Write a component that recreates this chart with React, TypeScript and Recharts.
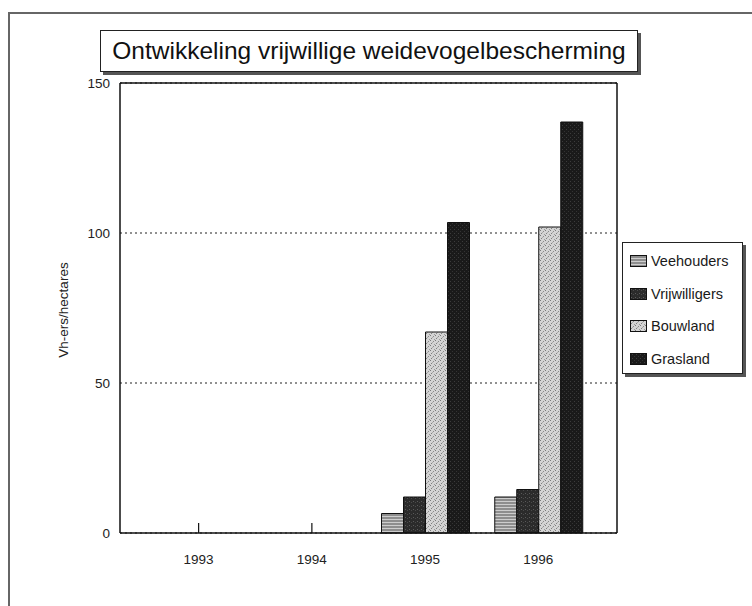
import React from 'react';
import { BarChart, Bar, XAxis, YAxis, CartesianGrid, Legend } from 'recharts';

const years = ['1993', '1994', '1995', '1996'];
const veehouders = [0, 0, 6.5, 12];
const vrijwilligers = [0, 0, 12, 14.5];
const bouwland = [0, 0, 67, 102];
const grasland = [0, 0, 103.5, 137];
const yTicks = [0, 50, 100, 150];

const SERIES = [
  { key: 'veehouders', name: 'Veehouders', fill: 'url(#pVee)' },
  { key: 'vrijwilligers', name: 'Vrijwilligers', fill: 'url(#pVrij)' },
  { key: 'bouwland', name: 'Bouwland', fill: 'url(#pBouw)' },
  { key: 'grasland', name: 'Grasland', fill: 'url(#pGras)' },
];

const data = years.map((year, i) => ({
  year,
  veehouders: veehouders[i],
  vrijwilligers: vrijwilligers[i],
  bouwland: bouwland[i],
  grasland: grasland[i],
}));

const FONT = '"Liberation Sans", Arial, sans-serif';

function YearTick({ x, y, payload }: any) {
  return (
    <g>
      <line x1={x} x2={x} y1={y} y2={y - 10} stroke="#111" strokeWidth={1.2} />
      <text x={x} y={y + 27} textAnchor="middle" dominantBaseline="middle" fontSize={13.5} fontFamily={FONT} fill="#222">
        {payload.value}
      </text>
    </g>
  );
}

function LegendBox({ payload }: any) {
  // keep the series order of the original chart
  const keys = (payload || []).map((p: any) => p.dataKey);
  const items = SERIES.filter((s) => keys.includes(s.key));
  return (
    <div
      style={{
        width: 121,
        height: 132,
        boxSizing: 'border-box',
        border: '1px solid #222',
        boxShadow: '3px 3px 0 #555',
        background: '#fff',
        padding: '2px 0 0 7px',
        fontFamily: FONT,
      }}
    >
      {items.map((s) => (
        <div key={s.key} style={{ display: 'flex', alignItems: 'center', height: 32.5 }}>
          <svg width={17} height={12} style={{ display: 'block' }}>
            <rect x={0.5} y={0.5} width={16} height={11} fill={s.fill} stroke="#111" />
          </svg>
          <span style={{ marginLeft: 4, fontSize: 14.5, color: '#1a1a1a' }}>{s.name}</span>
        </div>
      ))}
    </div>
  );
}

function AxisTitle() {
  return (
    <text x={64} y={310} transform="rotate(-90 64 310)" textAnchor="middle" dominantBaseline="middle" fontSize={13.5} fontFamily={FONT} fill="#222">
      Vh-ers/hectares
    </text>
  );
}

export default function App() {
  return (
    <div style={{ position: 'absolute', left: 0, top: 0, width: 752, height: 606, background: '#fff', overflow: 'hidden' }}>
      <div style={{ position: 'absolute', left: 8, top: 12, width: 800, height: 700, borderLeft: '2px solid #666', borderTop: '2px solid #666' }} />
      <div
        style={{
          position: 'absolute',
          left: 100,
          top: 30,
          width: 538,
          height: 42,
          boxSizing: 'border-box',
          border: '1px solid #222',
          boxShadow: '3px 3px 0 #555',
          background: '#fff',
          fontFamily: FONT,
          fontSize: 24.5,
          lineHeight: '40px',
          textAlign: 'center',
          color: '#111',
          zIndex: 2,
        }}
      >
        Ontwikkeling vrijwillige weidevogelbescherming
      </div>
      <BarChart
        width={752}
        height={606}
        data={data}
        margin={{ top: 82, right: 134, bottom: 33, left: 0 }}
        barCategoryGap={13}
        barGap={0}
      >
        <defs>
          <pattern id="pVee" width={4} height={3} patternUnits="userSpaceOnUse">
            <rect width={4} height={3} fill="#8e8e8e" />
            <rect width={4} height={1} fill="#cdcdcd" />
          </pattern>
          <pattern id="pVrij" width={4} height={4} patternUnits="userSpaceOnUse">
            <rect width={4} height={4} fill="#2b2b2b" />
            <rect x={1} y={1} width={1} height={1} fill="#5a5a5a" />
            <rect x={3} y={2} width={1} height={1} fill="#4a4a4a" />
          </pattern>
          <pattern id="pBouw" width={5} height={5} patternUnits="userSpaceOnUse">
            <rect width={5} height={5} fill="#d4d4d4" />
            <rect x={0} y={0} width={1} height={1} fill="#7a7a7a" />
            <rect x={3} y={1} width={1} height={1} fill="#8a8a8a" />
            <rect x={1} y={3} width={1} height={1} fill="#808080" />
            <rect x={4} y={4} width={1} height={1} fill="#999" />
            <rect x={2} y={2} width={1} height={1} fill="#aaa" />
          </pattern>
          <pattern id="pGras" width={4} height={4} patternUnits="userSpaceOnUse">
            <rect width={4} height={4} fill="#1a1a1a" />
            <rect x={2} y={1} width={1} height={1} fill="#3c3c3c" />
            <rect x={0} y={3} width={1} height={1} fill="#333" />
          </pattern>
        </defs>
        <CartesianGrid vertical={false} stroke="#222" strokeDasharray="2 3" />
        <XAxis
          dataKey="year"
          height={40}
          padding={{ left: 22, right: 22 }}
          tickLine={false}
          tickSize={0}
          tickMargin={0}
          axisLine={{ stroke: '#111', strokeWidth: 1.5 }}
          tick={<YearTick />}
        />
        <XAxis xAxisId="top" dataKey="year" orientation="top" height={1} tick={false} tickLine={false} axisLine={{ stroke: '#111', strokeWidth: 1.5 }} />
        <YAxis
          width={120}
          domain={[0, 150]}
          ticks={yTicks}
          tickLine={false}
          tickSize={0}
          tickMargin={10}
          axisLine={{ stroke: '#111', strokeWidth: 1.5 }}
          tick={{ fontSize: 13.5, fontFamily: FONT, fill: '#222' }}
          label={{ content: () => <AxisTitle /> }}
        />
        <YAxis yAxisId="r" orientation="right" width={1} domain={[0, 150]} tick={false} tickLine={false} axisLine={{ stroke: '#111', strokeWidth: 1.5 }} />
        <Legend
          layout="vertical"
          align="center"
          verticalAlign="middle"
          wrapperStyle={{ left: 622, top: 242, width: 121, height: 132 }}
          content={<LegendBox />}
        />
        {SERIES.map((s) => (
          <Bar key={s.key} dataKey={s.key} name={s.name} fill={s.fill} stroke="#111" strokeWidth={1} isAnimationActive={false} />
        ))}
      </BarChart>
    </div>
  );
}
